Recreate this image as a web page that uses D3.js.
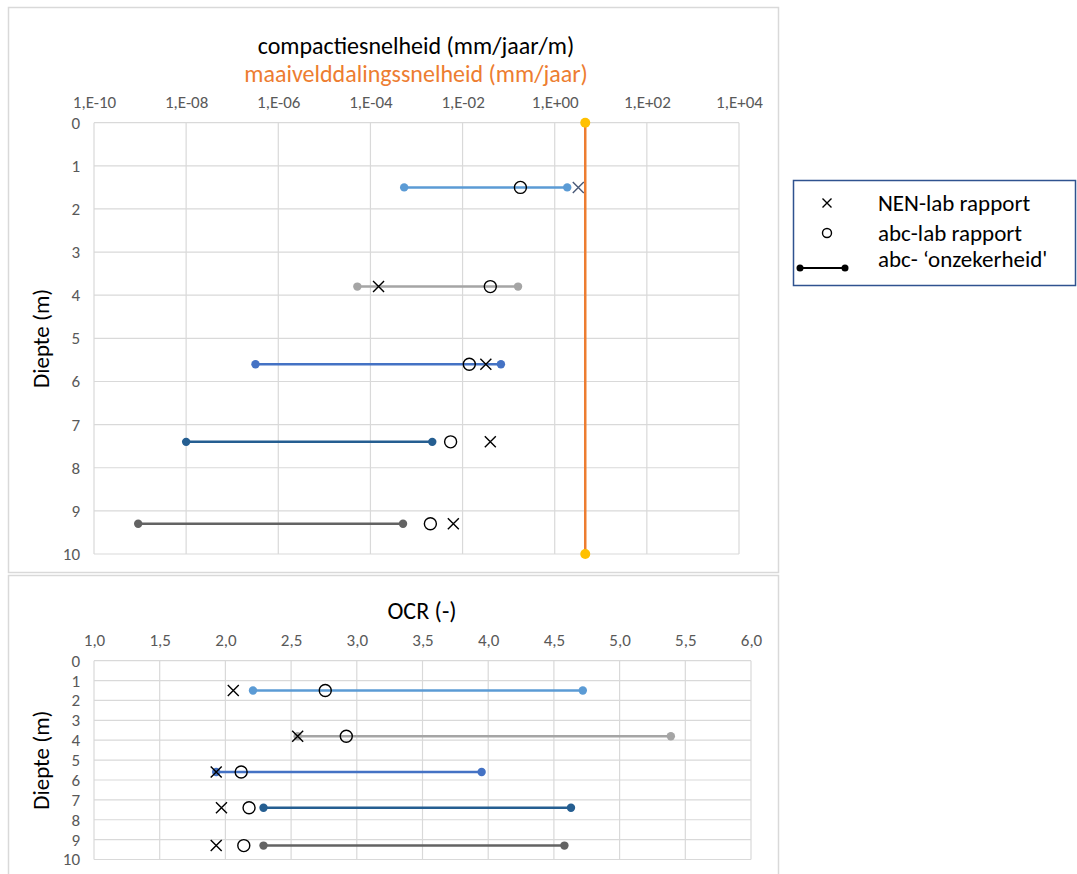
<!DOCTYPE html>
<html>
<head>
<meta charset="utf-8">
<script src="https://cdn.jsdelivr.net/npm/d3@7"></script>
<style>
  body { margin: 0; background: #fff; }
  text { font-family: Carlito, "Open Sans", "Noto Sans", sans-serif; }
</style>
</head>
<body>
<svg id="chart" width="1077" height="874"></svg>
<script>
// data
const depths = [1.5, 3.8, 5.6, 7.4, 9.3];
const seriesColors = ["#5B9BD5", "#A5A5A5", "#4472C4", "#255E91", "#636363"];

// compaction rate (mm/jaar/m), log axis
const rateLow  = [5.4e-4, 5.2e-5, 3.2e-7, 1.0e-8, 9.1e-10];
const rateHigh = [1.87, 0.16, 0.068, 2.2e-3, 5.1e-4];
const rateAbc  = [0.18, 0.04, 0.014, 5.5e-3, 2.0e-3];
const rateNen  = [3.25, 1.5e-4, 0.032, 0.04, 6.3e-3];
const subsidenceRate = 4.6;           // maaivelddalingssnelheid
const subsidenceDepths = [0, 10];
const rateTicks = [1e-10, 1e-8, 1e-6, 1e-4, 1e-2, 1e0, 1e2, 1e4];

// OCR (-)
const ocrLow  = [2.21, 2.55, 1.93, 2.29, 2.29];
const ocrHigh = [4.72, 5.39, 3.95, 4.63, 4.58];
const ocrAbc  = [2.76, 2.92, 2.12, 2.18, 2.14];
const ocrNen  = [2.06, 2.55, 1.93, 1.97, 1.93];
const ocrTicks = [1.0, 1.5, 2.0, 2.5, 3.0, 3.5, 4.0, 4.5, 5.0, 5.5, 6.0];

const depthTicks = [0, 1, 2, 3, 4, 5, 6, 7, 8, 9, 10];

const legendItems = ["NEN-lab rapport", "abc-lab rapport", "abc- \u2018onzekerheid'"];

const svg = d3.select("#chart");
const gridColor = "#D9D9D9";
const labelColor = "#595959";

// chart frames
svg.append("rect").attr("x", 8.5).attr("y", 7.5).attr("width", 770).attr("height", 565)
  .attr("fill", "#fff").attr("stroke", gridColor).attr("stroke-width", 1.5);
svg.append("rect").attr("x", 8.5).attr("y", 575.5).attr("width", 770).attr("height", 310)
  .attr("fill", "#fff").attr("stroke", gridColor).attr("stroke-width", 1.5);

function xMark(g, cx, cy, r, color) {
  g.append("path")
    .attr("d", `M${cx - r},${cy - r}L${cx + r},${cy + r}M${cx - r},${cy + r}L${cx + r},${cy - r}`)
    .attr("stroke", color).attr("stroke-width", 1.4).attr("fill", "none");
}

function drawPanel(opt) {
  const g = svg.append("g");
  const x = opt.x, y = opt.y;
  const [x0, x1] = x.range(), [y0, y1] = y.range();

  // grid
  g.append("g").selectAll("line").data(depthTicks).join("line")
    .attr("x1", x0).attr("x2", x1).attr("y1", d => y(d)).attr("y2", d => y(d))
    .attr("stroke", gridColor).attr("stroke-width", 1.2);
  g.append("g").selectAll("line").data(opt.xTicks).join("line")
    .attr("x1", d => x(d)).attr("x2", d => x(d)).attr("y1", y0).attr("y2", y1)
    .attr("stroke", gridColor).attr("stroke-width", 1.2);

  // axes (labels only)
  const ax = g.append("g").attr("transform", `translate(0,${y0})`)
    .call(d3.axisTop(x).tickValues(opt.xTicks).tickFormat(opt.xFormat).tickSize(0).tickPadding(opt.xPad));
  ax.select(".domain").remove();
  ax.selectAll("text").attr("fill", labelColor).attr("font-size", opt.tickSize);

  const ay = g.append("g").attr("transform", `translate(${x0},0)`)
    .call(d3.axisLeft(y).tickValues(depthTicks).tickFormat(d3.format("d")).tickSize(0).tickPadding(opt.yPad));
  ay.select(".domain").remove();
  ay.selectAll("text").attr("fill", labelColor).attr("font-size", opt.tickSize);

  g.append("text")
    .attr("transform", `translate(${opt.yTitleX},${(y0 + y1) / 2}) rotate(-90)`)
    .attr("text-anchor", "middle").attr("dy", "0.35em")
    .attr("font-size", 23).attr("fill", "#000").text("Diepte (m)");

  // uncertainty ranges
  const rows = depths.map((d, i) => ({ d, i, lo: opt.low[i], hi: opt.high[i], abc: opt.abc[i], nen: opt.nen[i] }));
  rows.forEach(r => {
    const c = seriesColors[r.i];
    g.append("line").attr("x1", x(r.lo)).attr("x2", x(r.hi)).attr("y1", y(r.d)).attr("y2", y(r.d))
      .attr("stroke", c).attr("stroke-width", 2.5);
    g.selectAll(null).data([r.lo, r.hi]).join("circle")
      .attr("cx", v => x(v)).attr("cy", y(r.d)).attr("r", 4.2).attr("fill", c);
  });
  rows.forEach(r => {
    g.append("circle").attr("cx", x(r.abc)).attr("cy", y(r.d)).attr("r", 6)
      .attr("fill", "none").attr("stroke", "#000").attr("stroke-width", 1.4);
    xMark(g, x(r.nen), y(r.d), 5.5, opt.nenColor(r.i));
  });
  return g;
}

// top: compaction rate
const xRate = d3.scaleLog().domain([1e-10, 1e4]).range([94, 739]);
const yTop = d3.scaleLinear().domain([0, 10]).range([122.7, 554]);
const topPanel = drawPanel({
  x: xRate, y: yTop, xTicks: rateTicks,
  xFormat: d => { const e = Math.round(Math.log10(d)); return "1,E" + (e < 0 ? "-" : "+") + String(Math.abs(e)).padStart(2, "0"); },
  xPad: 15, yPad: 14, tickSize: 17, yTitleX: 41,
  low: rateLow, high: rateHigh, abc: rateAbc, nen: rateNen,
  nenColor: i => i === 0 ? "#4A5A78" : "#000"
});

// subsidence rate line
topPanel.append("line")
  .attr("x1", xRate(subsidenceRate)).attr("x2", xRate(subsidenceRate))
  .attr("y1", yTop(subsidenceDepths[0])).attr("y2", yTop(subsidenceDepths[1]))
  .attr("stroke", "#ED7D31").attr("stroke-width", 2.5);
topPanel.selectAll(null).data(subsidenceDepths).join("circle")
  .attr("cx", xRate(subsidenceRate)).attr("cy", d => yTop(d)).attr("r", 5).attr("fill", "#FFC000");

svg.append("text").attr("x", 416).attr("y", 46).attr("dy", "0.35em").attr("text-anchor", "middle")
  .attr("font-size", 24).attr("fill", "#000").text("compactiesnelheid (mm/jaar/m)");
svg.append("text").attr("x", 416).attr("y", 74).attr("dy", "0.35em").attr("text-anchor", "middle")
  .attr("font-size", 24).attr("fill", "#ED7D31").text("maaivelddalingssnelheid (mm/jaar)");

// bottom: OCR
const xOcr = d3.scaleLinear().domain([1, 6]).range([94, 751]);
const yBot = d3.scaleLinear().domain([0, 10]).range([660.7, 859.5]);
drawPanel({
  x: xOcr, y: yBot, xTicks: ocrTicks,
  xFormat: d => d3.format(".1f")(d).replace(".", ","),
  xPad: 15, yPad: 14, tickSize: 17, yTitleX: 41,
  low: ocrLow, high: ocrHigh, abc: ocrAbc, nen: ocrNen,
  nenColor: () => "#000"
});
svg.append("text").attr("x", 422).attr("y", 611).attr("dy", "0.35em").attr("text-anchor", "middle")
  .attr("font-size", 24).attr("fill", "#000").text("OCR (-)");

// legend
const lg = svg.append("g");
lg.append("rect").attr("x", 793.5).attr("y", 180.5).attr("width", 282).attr("height", 105)
  .attr("fill", "#fff").attr("stroke", "#2F528F").attr("stroke-width", 1.5);
const legendY = [203, 233, 259];
lg.selectAll("text").data(legendItems).join("text")
  .attr("x", 878).attr("y", (d, i) => legendY[i]).attr("dy", "0.35em")
  .attr("font-size", 23).attr("fill", "#000").text(d => d);
xMark(lg, 827, 203, 4.5, "#000");
lg.append("circle").attr("cx", 827).attr("cy", 233).attr("r", 4.5)
  .attr("fill", "none").attr("stroke", "#000").attr("stroke-width", 1.4);
lg.append("line").attr("x1", 800).attr("x2", 845).attr("y1", 268).attr("y2", 268)
  .attr("stroke", "#000").attr("stroke-width", 2);
lg.selectAll(null).data([800, 845]).join("circle")
  .attr("cx", d => d).attr("cy", 268).attr("r", 3.5).attr("fill", "#000");
</script>
</body>
</html>
